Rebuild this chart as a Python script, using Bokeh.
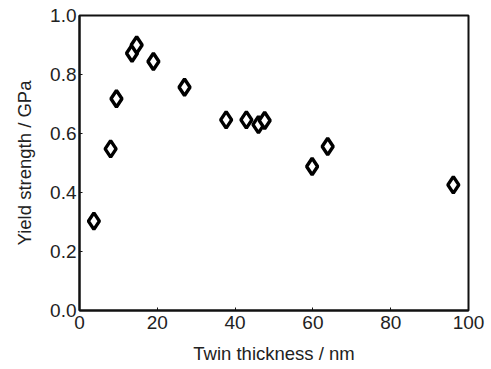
from bokeh.plotting import figure
from bokeh.models import Range1d, FixedTicker, NumeralTickFormatter, ColumnDataSource
from bokeh.embed import file_html
from bokeh.resources import INLINE

# Data
twin_thickness = [3.7, 8.0, 9.5, 13.5, 14.7, 19.0, 27.0, 37.7, 42.9, 46.0, 47.6, 59.8, 63.8, 96.1]
yield_strength = [0.303, 0.548, 0.718, 0.872, 0.900, 0.844, 0.757, 0.646, 0.646, 0.630, 0.644, 0.488, 0.556, 0.426]
x_ticks = [0, 20, 40, 60, 80, 100]
y_ticks = [0.0, 0.2, 0.4, 0.6, 0.8, 1.0]

source = ColumnDataSource(dict(x=twin_thickness, y=yield_strength))

p = figure(width=491, height=369, output_backend="svg", toolbar_location=None,
           x_range=Range1d(0, 100), y_range=Range1d(0, 1.0),
           min_border_left=79, min_border_right=23, min_border_top=15, min_border_bottom=59)

p.scatter("x", "y", source=source, marker="diamond", size=16.5,
          fill_color="white", line_color="black", line_width=3.4)

p.grid.visible = False
p.outline_line_color = "#111111"
p.outline_line_width = 2
p.background_fill_color = "white"
p.border_fill_color = "white"

font = "Liberation Sans"
for ax in (p.xaxis[0], p.yaxis[0]):
    ax.axis_line_color = "#111111"
    ax.axis_line_width = 2
    ax.major_tick_in = 3
    ax.major_tick_out = 0
    ax.major_tick_line_color = "#111111"
    ax.minor_tick_line_color = None
    ax.major_label_text_font = font
    ax.major_label_text_font_size = "19px"
    ax.major_label_text_color = "#222222"
    ax.axis_label_text_font = font
    ax.axis_label_text_font_size = "18.5px"
    ax.axis_label_text_font_style = "normal"
    ax.axis_label_text_color = "#222222"

p.xaxis[0].ticker = FixedTicker(ticks=x_ticks)
p.yaxis[0].ticker = FixedTicker(ticks=y_ticks)
p.yaxis[0].formatter = NumeralTickFormatter(format="0.0")
p.xaxis[0].major_label_standoff = 5
p.yaxis[0].major_label_standoff = 3
p.xaxis[0].axis_label = "Twin thickness / nm"
p.yaxis[0].axis_label = "Yield strength / GPa"
p.xaxis[0].axis_label_standoff = 11
p.yaxis[0].axis_label_standoff = 12

open("out.html", "w").write(file_html(p, INLINE))
